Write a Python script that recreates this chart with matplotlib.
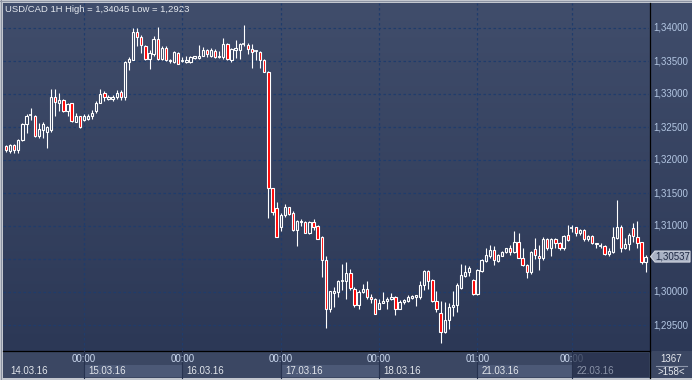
import matplotlib
matplotlib.use('Agg')
import matplotlib.pyplot as plt
import numpy as np
from matplotlib.patches import Rectangle, Polygon
from matplotlib.colors import LinearSegmentedColormap
import matplotlib.transforms as mtransforms

plt.rcParams['font.family'] = ['Liberation Sans', 'DejaVu Sans']

# ---------------- data ----------------
opens = [1.3221, 1.3213, 1.3223, 1.3215, 1.3230, 1.3255, 1.3267, 1.3266, 1.3236, 1.3246,
         1.3243, 1.3245, 1.3296, 1.3287, 1.3291, 1.3274, 1.3286, 1.3258, 1.3266, 1.3260,
         1.3262, 1.3266, 1.3275, 1.3287, 1.3301, 1.3293, 1.3293, 1.3296, 1.3303, 1.3296,
         1.3349, 1.3352, 1.3394, 1.3386, 1.3373, 1.3353, 1.3360, 1.3383, 1.3353, 1.3370,
         1.3350, 1.3348, 1.3362, 1.3351, 1.3348, 1.3348, 1.3354, 1.3354, 1.3358, 1.3366,
         1.3358, 1.3365, 1.3356, 1.3356, 1.3376, 1.3352, 1.3367, 1.3367, 1.3375, 1.3375,
         1.3368, 1.3364, 1.3363, 1.3352, 1.3334, 1.3157, 1.3127, 1.3099, 1.3116, 1.3129,
         1.3119, 1.3094, 1.3106, 1.3106, 1.3090, 1.3106, 1.3100, 1.3083, 1.3049, 1.2975,
         1.2999, 1.3000, 1.3016, 1.3016, 1.3029, 1.3005, 1.2981, 1.3000, 1.3004, 1.2993,
         1.2990, 1.2975, 1.2984, 1.2986, 1.2989, 1.2992, 1.2975, 1.2985, 1.2986, 1.2991,
         1.2993, 1.2993, 1.3010, 1.3032, 1.3018, 1.2987, 1.2968, 1.2940, 1.2957, 1.2977,
         1.2980, 1.3006, 1.3025, 1.3030, 1.3018, 1.2997, 1.3032, 1.3047, 1.3055, 1.3064,
         1.3047, 1.3055, 1.3060, 1.3066, 1.3060, 1.3076, 1.3052, 1.3041, 1.3030, 1.3065,
         1.3055, 1.3052, 1.3081, 1.3067, 1.3080, 1.3074, 1.3066, 1.3086, 1.3097, 1.3098,
         1.3090, 1.3094, 1.3080, 1.3085, 1.3072, 1.3069, 1.3070, 1.3057, 1.3060, 1.3082,
         1.3098, 1.3067, 1.3072, 1.3097, 1.3084, 1.3075, 1.3046]
highs = [1.3222, 1.3224, 1.3225, 1.3232, 1.3256, 1.3270, 1.3279, 1.3268, 1.3256, 1.3257,
         1.3252, 1.3308, 1.3308, 1.3301, 1.3292, 1.3287, 1.3287, 1.3271, 1.3267, 1.3269,
         1.3270, 1.3276, 1.3289, 1.3308, 1.3304, 1.3299, 1.3298, 1.3306, 1.3306, 1.3350,
         1.3356, 1.3400, 1.3400, 1.3390, 1.3375, 1.3367, 1.3388, 1.3401, 1.3372, 1.3373,
         1.3353, 1.3365, 1.3363, 1.3356, 1.3357, 1.3358, 1.3358, 1.3375, 1.3371, 1.3368,
         1.3370, 1.3368, 1.3365, 1.3385, 1.3377, 1.3370, 1.3382, 1.3377, 1.34045, 1.3377,
         1.3376, 1.3367, 1.3365, 1.3353, 1.3335, 1.3158, 1.3136, 1.3119, 1.3133, 1.3129,
         1.3123, 1.3109, 1.3110, 1.3107, 1.3107, 1.3110, 1.3102, 1.3085, 1.3054, 1.3002,
         1.3008, 1.3018, 1.3042, 1.3046, 1.3035, 1.3007, 1.3003, 1.3012, 1.3016, 1.2997,
         1.2991, 1.2990, 1.3000, 1.2993, 1.2998, 1.2994, 1.2988, 1.2990, 1.2996, 1.2995,
         1.2996, 1.3017, 1.3033, 1.3033, 1.3019, 1.3002, 1.2986, 1.2985, 1.2984, 1.3002,
         1.3013, 1.3042, 1.3041, 1.3040, 1.3020, 1.3035, 1.3050, 1.3066, 1.3071, 1.3069,
         1.3057, 1.3062, 1.3067, 1.3071, 1.3092, 1.3090, 1.3066, 1.3043, 1.3062, 1.3082,
         1.3071, 1.3084, 1.3082, 1.3082, 1.3082, 1.3076, 1.3087, 1.3101, 1.3101, 1.3099,
         1.3095, 1.3095, 1.3086, 1.3086, 1.3075, 1.3075, 1.3071, 1.3067, 1.3099, 1.3139,
         1.3102, 1.3082, 1.3089, 1.3104, 1.3108, 1.3076, 1.3056]
lows = [1.3212, 1.3210, 1.3211, 1.3211, 1.3229, 1.3241, 1.3261, 1.3235, 1.3233, 1.3233,
        1.3218, 1.3243, 1.3266, 1.3274, 1.3272, 1.3266, 1.3258, 1.3258, 1.3249, 1.3259,
        1.3261, 1.3262, 1.3271, 1.3286, 1.3289, 1.3291, 1.3289, 1.3293, 1.3291, 1.3291,
        1.3337, 1.3352, 1.3372, 1.3362, 1.3352, 1.3338, 1.3358, 1.3352, 1.3352, 1.3350,
        1.3347, 1.3347, 1.3345, 1.3348, 1.3347, 1.3347, 1.3353, 1.3353, 1.3357, 1.3356,
        1.3356, 1.3355, 1.3355, 1.3353, 1.3351, 1.3349, 1.3355, 1.3353, 1.3372, 1.3360,
        1.3339, 1.3352, 1.3339, 1.3333, 1.3112, 1.3116, 1.3083, 1.3092, 1.3113, 1.3117,
        1.3093, 1.3070, 1.3100, 1.3089, 1.3088, 1.3094, 1.3080, 1.3023, 1.2945, 1.2970,
        1.2977, 1.2992, 1.3003, 1.2990, 1.3003, 1.2978, 1.2975, 1.2998, 1.2990, 1.2984,
        1.2966, 1.2974, 1.2983, 1.2975, 1.2988, 1.2965, 1.2974, 1.2982, 1.2985, 1.2989,
        1.2979, 1.2989, 1.3003, 1.3004, 1.2985, 1.2970, 1.2923, 1.2938, 1.2944, 1.2963,
        1.2970, 1.3004, 1.3022, 1.3025, 1.2995, 1.2996, 1.3031, 1.3046, 1.3051, 1.3041,
        1.3046, 1.3054, 1.3059, 1.3056, 1.3059, 1.3051, 1.3040, 1.3021, 1.3028, 1.3050,
        1.3033, 1.3048, 1.3064, 1.3055, 1.3067, 1.3064, 1.3064, 1.3077, 1.3091, 1.3085,
        1.3087, 1.3077, 1.3077, 1.3072, 1.3066, 1.3066, 1.3056, 1.3054, 1.3059, 1.3080,
        1.3060, 1.3065, 1.3064, 1.3076, 1.3066, 1.3043, 1.3031]
closes = [1.3215, 1.3223, 1.3215, 1.3231, 1.3255, 1.3267, 1.3268, 1.3237, 1.3247, 1.3255,
          1.3250, 1.3295, 1.3288, 1.3291, 1.3274, 1.3285, 1.3259, 1.3266, 1.3250, 1.3267,
          1.3267, 1.3271, 1.3287, 1.3300, 1.3295, 1.3296, 1.3296, 1.3302, 1.3296, 1.3348,
          1.3353, 1.3394, 1.3386, 1.3375, 1.3353, 1.3362, 1.3383, 1.3353, 1.3370, 1.3352,
          1.3352, 1.3363, 1.3346, 1.3350, 1.3352, 1.3356, 1.3357, 1.3358, 1.3366, 1.3360,
          1.3367, 1.3356, 1.3358, 1.3376, 1.3353, 1.3368, 1.3369, 1.3376, 1.3376, 1.3368,
          1.3364, 1.3365, 1.3351, 1.3334, 1.3157, 1.3121, 1.3084, 1.3117, 1.3129, 1.3118,
          1.3094, 1.3107, 1.3108, 1.3090, 1.3106, 1.3099, 1.3081, 1.3049, 1.2975, 1.3001,
          1.3001, 1.3017, 1.3017, 1.3029, 1.3006, 1.2981, 1.3000, 1.3004, 1.2992, 1.2989,
          1.2966, 1.2984, 1.2986, 1.2989, 1.2993, 1.2975, 1.2985, 1.2988, 1.2992, 1.2994,
          1.2995, 1.3011, 1.3032, 1.3017, 1.2987, 1.2975, 1.2940, 1.2958, 1.2977, 1.2981,
          1.3011, 1.3026, 1.3030, 1.3037, 1.2997, 1.3033, 1.3049, 1.3056, 1.3064, 1.3049,
          1.3056, 1.3061, 1.3066, 1.3060, 1.3076, 1.3052, 1.3041, 1.3030, 1.3061, 1.3056,
          1.3052, 1.3081, 1.3067, 1.3080, 1.3074, 1.3066, 1.3085, 1.3079, 1.3098, 1.3089,
          1.3094, 1.3080, 1.3085, 1.3074, 1.3074, 1.3070, 1.3057, 1.3062, 1.3084, 1.3099,
          1.3067, 1.3072, 1.3087, 1.3085, 1.3075, 1.3046, 1.30537]

y_ticks = [1.295, 1.300, 1.305, 1.310, 1.315, 1.320, 1.325, 1.330, 1.335, 1.340]
y_tick_labels = ['1,29500', '1,30000', '1,30500', '1,31000', '1,31500',
                 '1,32000', '1,32500', '1,33000', '1,33500', '1,34000']
day_start_idx = [19, 43, 67, 91, 115, 138]
time_labels = ['00:00', '00:00', '00:00', '00:00', '01:00', '00:00']
date_labels = ['14.03.16', '15.03.16', '16.03.16', '17.03.16', '18.03.16', '21.03.16', '22.03.16']
title = 'USD/CAD 1H High = 1,34045 Low = 1,2923'
last_price = 1.30537
last_price_label = '1,30537'
bars_total = '1367'
bars_visible = '>158<'

# ---------------- layout ----------------
W, H = 692, 380
PL, PR, PT, PB = 3, 649, 3, 350   # plot area in pixels
fig = plt.figure(figsize=(W / 100, H / 100), dpi=100)
fig.patch.set_facecolor('#3b4763')

bg = fig.add_axes([0, 0, 1, 1])
bg.set_xlim(0, W)
bg.set_ylim(H, 0)
bg.axis('off')

cmap = LinearSegmentedColormap.from_list('bgc', ['#404d6b', '#2c3856'])
grad = np.linspace(0, 1, 256).reshape(-1, 1)
bg.imshow(grad, extent=(PL, W, PB + 1, PT), aspect='auto', cmap=cmap, zorder=0)

# bottom panel
bg.add_patch(Rectangle((PL, PB + 1), W - PL, 27, facecolor='#3b4763', edgecolor='none', zorder=1))
# outer frame
bg.add_patch(Rectangle((0, 0), W, 3, facecolor='#c3c7cf', edgecolor='none', zorder=5))
bg.add_patch(Rectangle((0, 0), 3, H, facecolor='#c3c7cf', edgecolor='none', zorder=5))
bg.add_patch(Rectangle((0, H - 2), W, 2, facecolor='#c3c7cf', edgecolor='none', zorder=5))
bg.add_patch(Rectangle((0, 1), W, 1, facecolor='#8c93a3', edgecolor='none', zorder=6))
bg.add_patch(Rectangle((1, 0), 1, H, facecolor='#8c93a3', edgecolor='none', zorder=6))

bg.text(5, 9.5, title, fontsize=6.8, color='#e4e8ee', va='center', ha='left', zorder=7)

# candle axes
ax = fig.add_axes([PL / W, (H - PB) / H, (PR - PL) / W, (PB - PT) / H])
ax.patch.set_alpha(0)
ax.axis('off')
x0, dx = 6, 4.1
ax.set_xlim((PL - x0) / dx, (PR - x0) / dx)
ax.set_ylim(1.34 - (PB - 28) / 6600, 1.34 + (28 - PT) / 6600)

gridc = '#1f3c6c'
for yv in y_ticks:
    ax.axhline(yv, color=gridc, lw=0.9, ls=(0, (2, 2)), zorder=1)

blend = mtransforms.blended_transform_factory(ax.transData, ax.transAxes)
ph = PB - PT
def yfrac(ypix):
    return (PB - ypix) / ph

xl = ax.get_xlim()
starts = [xl[0]] + day_start_idx
ends = day_start_idx + [xl[1]]
for k, (s, e) in enumerate(zip(starts, ends)):
    if k % 2 == 1 and k < len(starts) - 1:
        ax.add_patch(Rectangle((s + 0.15, yfrac(377)), e - s - 0.15, yfrac(365) - yfrac(377),
                               transform=blend, facecolor='#4c5977', edgecolor='none',
                               clip_on=False, zorder=2))

for idx, tl in zip(day_start_idx, time_labels):
    ax.axvline(idx, color=gridc, lw=0.9, ls=(0, (2, 2)), zorder=1)
    ax.plot([idx, idx], [yfrac(351), yfrac(378)], transform=blend, color='#26324f',
            lw=0.8, clip_on=False, zorder=3)
    ax.text(idx, yfrac(358.5), tl, transform=blend, ha='center', va='center',
            fontsize=7, color='#cbd8ee', clip_on=False, zorder=4)

date_x = [xl[0] + 1.7] + [d + 1.1 for d in day_start_idx]
for k, (dxp, dl) in enumerate(zip(date_x, date_labels)):
    col = '#e2e6ec' if k < len(date_labels) - 1 else '#8a93a8'
    ax.text(dxp, yfrac(371), dl, transform=blend, ha='left', va='center',
            fontsize=7, color=col, clip_on=False, zorder=6)

# dimmed current-day box
ax.add_patch(Rectangle((day_start_idx[-1] + 0.1, yfrac(377)), xl[1] - day_start_idx[-1] - 0.1,
                       yfrac(352.5) - yfrac(377), transform=blend, facecolor='#26304b',
                       alpha=0.75, edgecolor='none', clip_on=False, zorder=5))

# candles
bw = 0.56
span = ax.get_ylim()[1] - ax.get_ylim()[0]
px = span / ph
for i, (o, h, l, c) in enumerate(zip(opens, highs, lows, closes)):
    ax.plot([i, i], [l, h], color='white', lw=0.8, solid_capstyle='butt', zorder=3)
    lo, hi = min(o, c), max(o, c)
    if hi - lo < px * 1.2:
        ax.plot([i - bw / 2 - 0.12, i + bw / 2 + 0.12], [(lo + hi) / 2] * 2, color='white',
                lw=1.2, solid_capstyle='butt', zorder=4)
        continue
    fc = '#ff0000' if c < o else '#33405e'
    ax.add_patch(Rectangle((i - bw / 2, lo), bw, hi - lo, facecolor=fc, edgecolor='white',
                           lw=0.8, zorder=4))

# frame lines
bg.plot([PR + 0.5, PR + 0.5], [PT, H - 2], color='black', lw=0.9, zorder=6)
bg.plot([PL, PR + 0.5], [PB + 0.5, PB + 0.5], color='black', lw=0.9, zorder=6)

# price axis labels (the one hidden under the last-price marker is not drawn)
hh = 5.5 * px
yblend = mtransforms.blended_transform_factory(bg.transData, ax.transData)
for yv, lab in zip(y_ticks, y_tick_labels):
    if abs(yv - last_price) < 2.2 * hh:
        continue
    ax.text(653, yv, lab, transform=yblend, ha='left', va='center', fontsize=7,
            color='#b3c6e2', clip_on=False, zorder=6)

# last price marker
poly = Polygon([(650.5, last_price), (655, last_price + hh), (690, last_price + hh),
                (690, last_price - hh), (655, last_price - hh)], closed=True,
               transform=yblend, facecolor='#a9b2c4', edgecolor='#d3d8e2', lw=0.8,
               clip_on=False, zorder=8)
ax.add_patch(poly)
ax.text(672.5, last_price, last_price_label, transform=yblend, ha='center', va='center',
        fontsize=7, color='#1f2a44', clip_on=False, zorder=9)

# bars count
bg.text(671, 358.5, bars_total, ha='center', va='center', fontsize=7, color='#e6e9ee', zorder=7)
bg.plot([656, 687], [365.5, 365.5], color='#8d96ab', lw=0.8, zorder=7)
bg.text(671, 372, bars_visible, ha='center', va='center', fontsize=7, color='#e6e9ee', zorder=7)

fig.savefig('out.png', dpi=100, facecolor=fig.get_facecolor())
